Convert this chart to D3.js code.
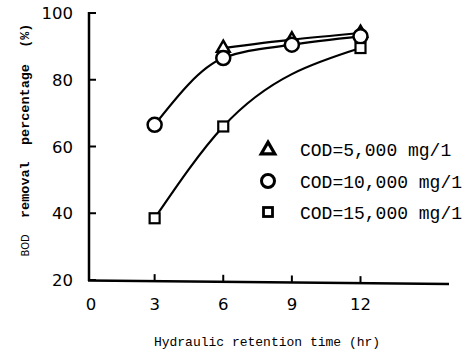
<!DOCTYPE html>
<html><head><meta charset="utf-8">
<script src="https://cdn.jsdelivr.net/npm/d3@7"></script>
<style>body{margin:0;background:#fff}svg{display:block}</style>
</head><body>
<script>
const xTicks=[0,3,6,9,12];
const yTicks=[20,40,60,80,100];
const triX=[6,9,12], triY=[89.5,92,94];
const cirX=[3,6,9,12], cirY=[66.5,86.5,90.5,93];
const sqX=[3,6,12], sqY=[38.5,66,89.5];
const legendLabels=["COD=5,000 mg/1","COD=10,000 mg/1","COD=15,000 mg/1"];

const W=473,H=359;
const svg=d3.select("body").append("svg").attr("width",W).attr("height",H);
const x=d3.scaleLinear().domain([0,16]).range([86,452]);
const y=d3.scaleLinear().domain([20,100]).range([280,13]);
const g=svg.append("g");
// axes
g.append("line").attr("x1",89).attr("x2",89).attr("y1",12).attr("y2",281).attr("stroke","#000").attr("stroke-width",2.5);
g.append("line").attr("x1",88).attr("x2",449).attr("y1",280.5).attr("y2",284).attr("stroke","#000").attr("stroke-width",2.5);
yTicks.forEach(v=>{
  g.append("line").attr("x1",89).attr("x2",96).attr("y1",y(v)).attr("y2",y(v)).attr("stroke","#000").attr("stroke-width",2);
  g.append("text").attr("x",73).attr("y",y(v)+6).attr("text-anchor","end").attr("font-family","DejaVu Sans").attr("font-size",16.5).text(v);
});
xTicks.forEach(v=>{
  const yb=280.5+(x(v)-88)/(449-88)*3.5;
  if(v>0) g.append("line").attr("x1",x(v)).attr("x2",x(v)).attr("y1",yb).attr("y2",yb-7).attr("stroke","#000").attr("stroke-width",2);
  g.append("text").attr("x",v===0?91:x(v)).attr("y",310).attr("text-anchor","middle").attr("font-family","DejaVu Sans").attr("font-size",16.5).text(v);
});
// curves
const line=d3.line().x(d=>x(d[0])).y(d=>y(d[1])).curve(d3.curveMonotoneX);
function series(xs,ys){return xs.map((v,i)=>[v,ys[i]]);}
[[triX,triY],[cirX,cirY],[sqX,sqY]].forEach(([xs,ys])=>{
  g.append("path").attr("d",line(series(xs,ys))).attr("fill","none").attr("stroke","#000").attr("stroke-width",2.2);
});
// markers
const tri=d3.symbol().type(d3.symbolTriangle).size(70);
series(triX,triY).forEach(d=>g.append("path").attr("d",tri()).attr("transform",`translate(${x(d[0])},${y(d[1])})`).attr("fill","#fff").attr("stroke","#000").attr("stroke-width",2.5));
series(cirX,cirY).forEach(d=>g.append("circle").attr("cx",x(d[0])).attr("cy",y(d[1])).attr("r",7).attr("fill","#fff").attr("stroke","#000").attr("stroke-width",2.5));
series(sqX,sqY).forEach(d=>g.append("rect").attr("x",x(d[0])-5).attr("y",y(d[1])-5).attr("width",10).attr("height",10).attr("fill","#fff").attr("stroke","#000").attr("stroke-width",2.2));
// legend
const ly=[149,181,212], lx=268;
g.append("path").attr("d",d3.symbol().type(d3.symbolTriangle).size(80)()).attr("transform",`translate(${lx},${ly[0]+1})`).attr("fill","#fff").attr("stroke","#000").attr("stroke-width",3.2);
g.append("circle").attr("cx",lx).attr("cy",ly[1]).attr("r",6.5).attr("fill","#fff").attr("stroke","#000").attr("stroke-width",3);
g.append("rect").attr("x",lx-4.5).attr("y",ly[2]-4.5).attr("width",9).attr("height",9).attr("fill","#fff").attr("stroke","#000").attr("stroke-width",2.8);
legendLabels.forEach((t,i)=>g.append("text").attr("x",300).attr("y",ly[i]+6.5).attr("font-family","Liberation Mono").attr("font-size",18).text(t));
// axis titles
const yl=svg.append("text").attr("transform","translate(29,140) rotate(-90)").attr("text-anchor","middle").attr("font-family","Liberation Mono").attr("font-size",13.5);
yl.append("tspan").attr("font-size",10).attr("font-family","DejaVu Sans").text("BOD");
yl.append("tspan").attr("font-weight","bold").text("\u00a0\u00a0removal\u00a0\u00a0percentage\u00a0\u00a0(%)");
svg.append("text").attr("x",267).attr("y",346).attr("text-anchor","middle").attr("font-family","Liberation Mono").attr("font-size",13).text("Hydraulic retention time (hr)");
</script>
</body></html>
